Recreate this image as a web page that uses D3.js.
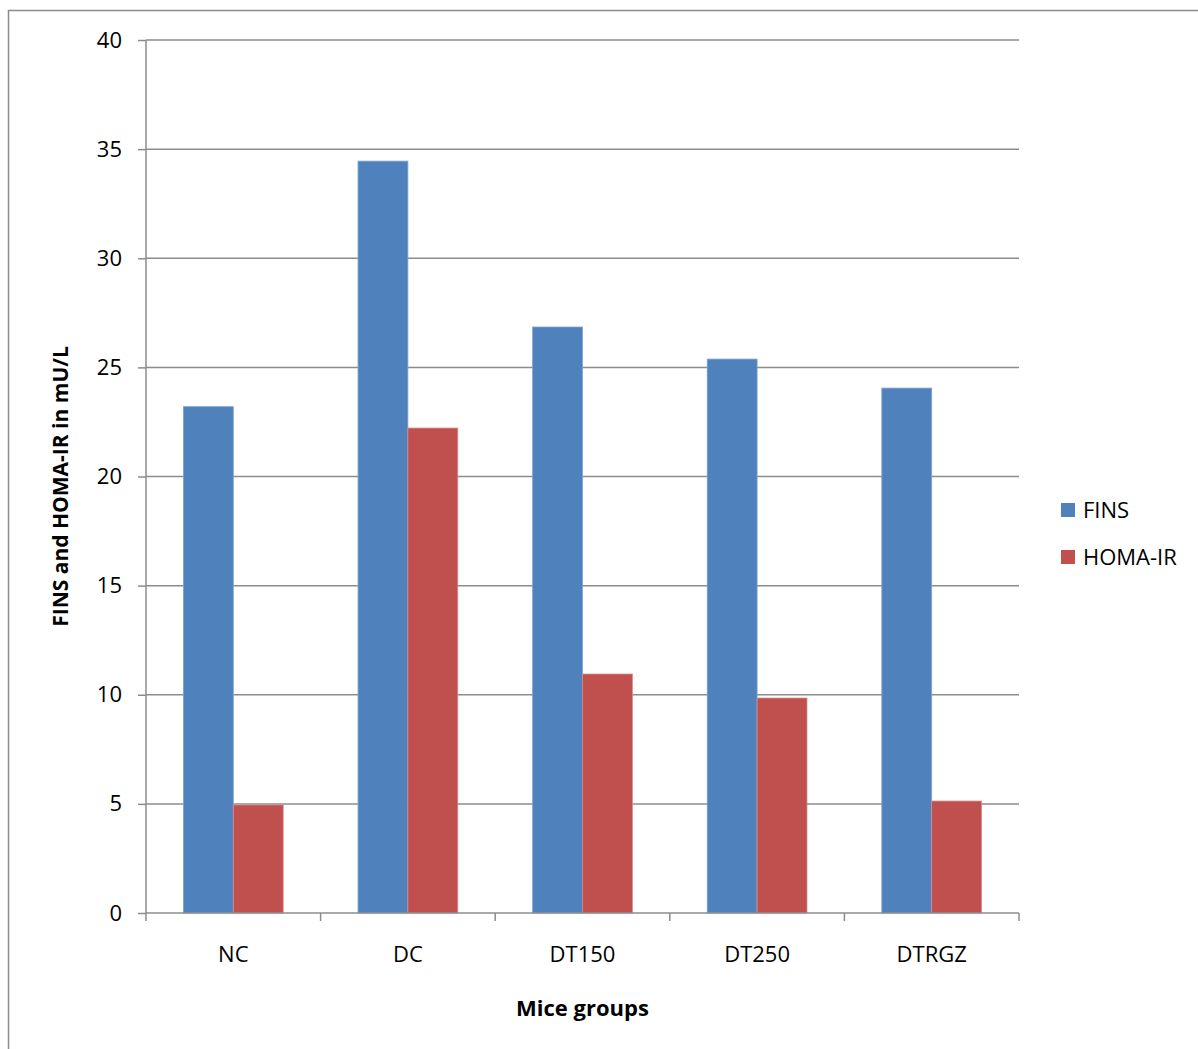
<!DOCTYPE html>
<html>
<head>
<meta charset="utf-8">
<script src="https://cdn.jsdelivr.net/npm/d3@7"></script>
<style>
  html, body { margin: 0; padding: 0; background: #fff; }
  svg { display: block; font-family: "Open Sans", "Liberation Sans", sans-serif; }
</style>
</head>
<body>
<svg id="chart" width="1198" height="1049"></svg>
<script>
// Mice groups and measured values
const groups = ["NC", "DC", "DT150", "DT250", "DTRGZ"];
const seriesNames = ["FINS", "HOMA-IR"];
const fins = [23.2, 34.45, 26.85, 25.38, 24.05];
const homaIR = [4.95, 22.22, 10.95, 9.85, 5.13];
const yTicks = [0, 5, 10, 15, 20, 25, 30, 35, 40];
const colors = ["#4f81bd", "#c0504d"];
const strokes = ["#7ea3d3", "#d98a88"];

const svg = d3.select("#chart");
const plotL = 146, plotR = 1019, plotT = 40, plotB = 913;

// outer chart frame
svg.append("rect")
  .attr("x", 8.5).attr("y", 10.5)
  .attr("width", 1300).attr("height", 1200)
  .attr("fill", "none").attr("stroke", "#8c8c8c").attr("stroke-width", 1.5);

const x = d3.scaleBand().domain(groups).range([plotL, plotR]).paddingInner(0).paddingOuter(0);
const y = d3.scaleLinear().domain([0, 40]).range([plotB, plotT]);
const barW = x.bandwidth() / 3.5;
const xs = d3.scaleBand().domain(seriesNames).range([0, barW * 2]);

// horizontal gridlines
svg.append("g").selectAll("line").data(yTicks.filter(d => d > 0)).join("line")
  .attr("x1", plotL).attr("x2", plotR)
  .attr("y1", d => y(d)).attr("y2", d => y(d))
  .attr("stroke", "#8c8c8c").attr("stroke-width", 1.5);

// bars
const data = groups.map((g, i) => ({ g, vals: [fins[i], homaIR[i]] }));
const gg = svg.append("g").selectAll("g").data(data).join("g")
  .attr("transform", d => `translate(${x(d.g) + (x.bandwidth() - barW * 2) / 2},0)`);
gg.selectAll("rect").data(d => d.vals.map((v, k) => ({ v, k }))).join("rect")
  .attr("x", d => xs(seriesNames[d.k]))
  .attr("y", d => y(d.v))
  .attr("width", xs.bandwidth())
  .attr("height", d => y(0) - y(d.v))
  .attr("fill", d => colors[d.k])
  .attr("stroke", d => strokes[d.k])
  .attr("stroke-width", 0.8);

// y axis
const yAxis = svg.append("g").attr("transform", `translate(${plotL},0)`)
  .call(d3.axisLeft(y).tickValues(yTicks).tickSize(8).tickPadding(16).tickFormat(d3.format("d")));
yAxis.select(".domain").attr("stroke", "#8c8c8c").attr("stroke-width", 1.5).attr("d", `M0,${plotT}V${plotB}`);
yAxis.selectAll(".tick line").attr("stroke", "#8c8c8c").attr("stroke-width", 1.5);
yAxis.selectAll(".tick text").attr("font-size", 22).attr("fill", "#000")
  .attr("font-family", "'Open Sans', sans-serif");

// x axis
const xAxis = svg.append("g").attr("transform", `translate(0,${plotB})`)
  .call(d3.axisBottom(x).tickSize(0).tickPadding(33));
xAxis.select(".domain").attr("stroke", "#8c8c8c").attr("stroke-width", 1.5).attr("d", `M${plotL},0H${plotR}`);
xAxis.selectAll(".tick text").attr("font-size", 22).attr("fill", "#000")
  .attr("font-family", "'Open Sans', sans-serif");
const boundaries = groups.map(g => x(g)).concat([x(groups[groups.length - 1]) + x.bandwidth()]);
xAxis.append("g").selectAll("line").data(boundaries).join("line")
  .attr("x1", d => d).attr("x2", d => d).attr("y1", 0).attr("y2", 8)
  .attr("stroke", "#8c8c8c").attr("stroke-width", 1.5);

// axis titles
svg.append("text")
  .attr("x", (plotL + plotR) / 2).attr("y", 1016)
  .attr("text-anchor", "middle").attr("font-size", 22).attr("font-weight", "bold")
  .text("Mice groups");
svg.append("text")
  .attr("transform", `translate(68,${(plotT + plotB) / 2 + 10}) rotate(-90)`)
  .attr("text-anchor", "middle").attr("font-size", 21).attr("font-weight", "bold")
  .text("FINS and HOMA-IR in mU/L");

// legend
const leg = svg.append("g").selectAll("g").data(seriesNames).join("g")
  .attr("transform", (d, i) => `translate(1061,${503 + i * 47})`);
leg.append("rect").attr("width", 14).attr("height", 14).attr("fill", (d, i) => colors[i]);
leg.append("text").attr("x", 22).attr("y", 15).attr("font-size", 22).text(d => d);
</script>
</body>
</html>
